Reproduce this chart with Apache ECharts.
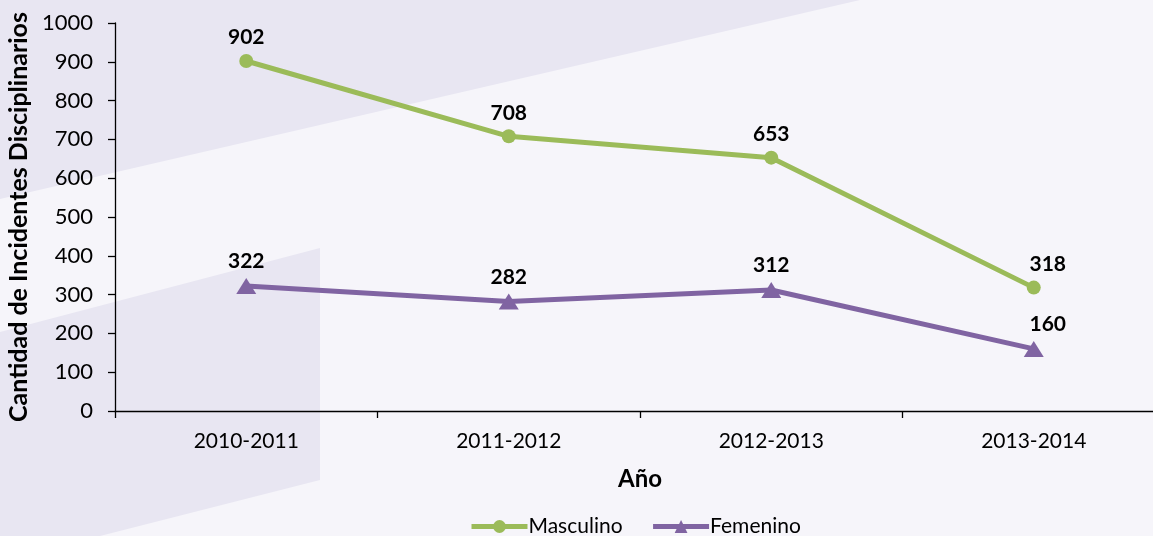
<!DOCTYPE html>
<html>
<head>
<meta charset="utf-8">
<script src="https://cdn.jsdelivr.net/npm/echarts@6/dist/echarts.min.js"></script>
<style>
html,body{margin:0;padding:0;background:#f6f5fa;}
#c{width:1153px;height:536px;}
</style>
</head>
<body>
<div id="c"></div>
<script>
const categories = ['2010-2011', '2011-2012', '2012-2013', '2013-2014'];
const masculino = [902, 708, 653, 318];
const femenino = [322, 282, 312, 160];
const seriesNames = ['Masculino', 'Femenino'];
const yAxisTitle = 'Cantidad de Incidentes Disciplinarios';
const xAxisTitle = 'Año';

const FONT = 'Lato';
const chart = echarts.init(document.getElementById('c'), null, {renderer: 'canvas'});

function withLastOffset(vals) {
  return vals.map((v, i) => i === vals.length - 1 ? {value: v, label: {offset: [14, 0]}} : v);
}

const option = {
  backgroundColor: '#f6f5fa',
  animation: false,
  textStyle: {fontFamily: FONT},
  graphic: [
    {type: 'polygon', z: -10, silent: true,
     shape: {points: [[0, 0], [860, 0], [0, 199]]},
     style: {fill: '#e8e6f2'}},
    {type: 'polygon', z: -10, silent: true,
     shape: {points: [[0, 332], [320, 248], [320, 480], [100, 536], [0, 536]]},
     style: {fill: '#e8e6f2'}}
  ],
  grid: {left: 115, top: 23, width: 1050, bottom: 125, containLabel: false, outerBoundsMode: 'none'},
  legend: {
    data: seriesNames,
    top: 511,
    left: 464,
    itemWidth: 56,
    itemHeight: 16,
    itemGap: 28,
    lineStyle: {width: 5},
    textStyle: {fontFamily: FONT, fontSize: 21, color: '#000', padding: [0, 0, 0, -4]}
  },
  xAxis: {
    type: 'category',
    data: categories,
    boundaryGap: true,
    name: xAxisTitle,
    nameLocation: 'middle',
    nameGap: 56,
    nameTextStyle: {fontFamily: FONT, fontWeight: 'bold', fontSize: 24, color: '#000'},
    axisLine: {lineStyle: {color: '#000', width: 1.3}},
    axisTick: {show: true, length: 7, inside: false, lineStyle: {color: '#000', width: 1.3}},
    axisLabel: {fontFamily: FONT, fontSize: 21, color: '#000', margin: 20},
    splitLine: {show: false}
  },
  yAxis: {
    type: 'value',
    min: 0, max: 1000, interval: 100,
    name: yAxisTitle,
    nameLocation: 'middle',
    nameGap: 82,
    nameRotate: 90,
    nameTextStyle: {fontFamily: FONT, fontWeight: 'bold', fontSize: 25, color: '#000'},
    axisLine: {show: true, lineStyle: {color: '#000', width: 1.3}},
    axisTick: {show: true, length: 7, lineStyle: {color: '#000', width: 1.3}},
    axisLabel: {fontFamily: FONT, fontSize: 22, color: '#000', margin: 22, formatter: v => String(v)},
    splitLine: {show: false}
  },
  series: [
    {
      name: seriesNames[0],
      type: 'line',
      data: withLastOffset(masculino),
      symbol: 'circle',
      symbolSize: 14,
      lineStyle: {color: '#9bbb59', width: 5},
      itemStyle: {color: '#9bbb59'},
      label: {show: true, position: 'top', distance: 6, fontFamily: FONT, fontWeight: 'bold', fontSize: 21, color: '#000'}
    },
    {
      name: seriesNames[1],
      type: 'line',
      data: withLastOffset(femenino),
      symbol: 'triangle',
      symbolSize: [20, 16],
      lineStyle: {color: '#8064a2', width: 5},
      itemStyle: {color: '#8064a2'},
      label: {show: true, position: 'top', distance: 6, fontFamily: FONT, fontWeight: 'bold', fontSize: 21, color: '#000'}
    }
  ]
};
chart.setOption(option);
</script>
</body>
</html>
